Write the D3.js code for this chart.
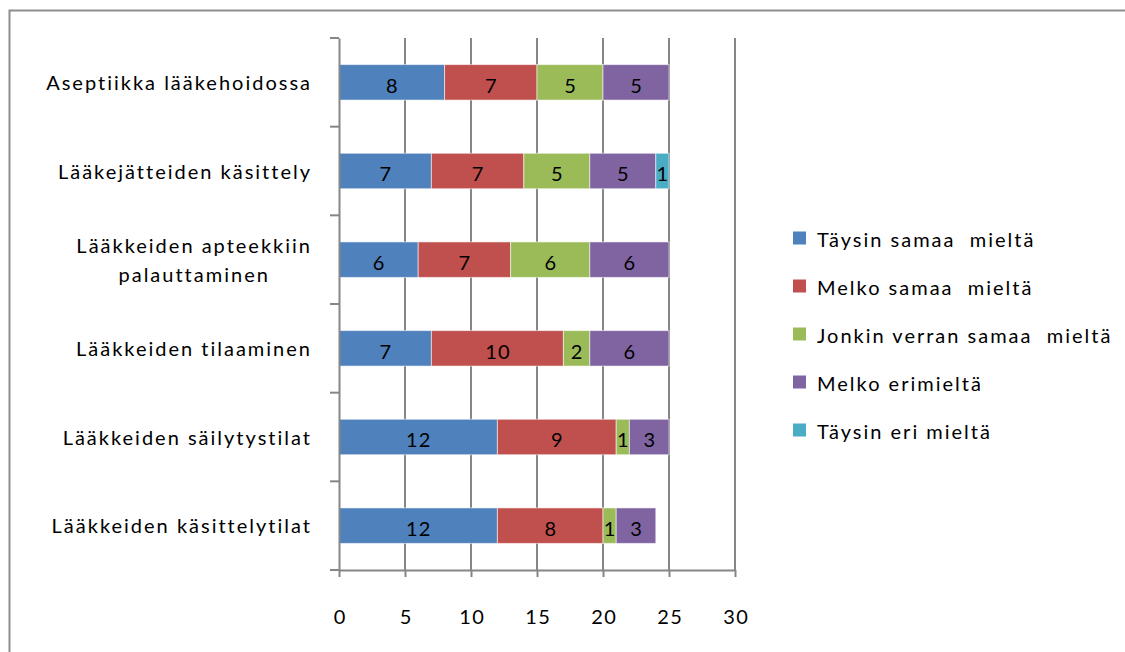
<!DOCTYPE html>
<html>
<head>
<meta charset="utf-8">
<script src="https://cdn.jsdelivr.net/npm/d3@7"></script>
<style>
  html, body { margin: 0; padding: 0; background: #fff; }
  svg { display: block; }
  text { font-family: Lato, "Open Sans", sans-serif; fill: #000; }
</style>
</head>
<body>
<svg id="chart" width="1125" height="652"></svg>
<script>
// Survey topics, top to bottom
const categories = [
  "Aseptiikka lääkehoidossa",
  "Lääkejätteiden käsittely",
  "Lääkkeiden apteekkiin palauttaminen",
  "Lääkkeiden tilaaminen",
  "Lääkkeiden säilytystilat",
  "Lääkkeiden käsittelytilat"
];
// Wrapped lines for the category labels
const categoryLines = [
  ["Aseptiikka lääkehoidossa"],
  ["Lääkejätteiden käsittely"],
  ["Lääkkeiden apteekkiin", "palauttaminen"],
  ["Lääkkeiden tilaaminen"],
  ["Lääkkeiden säilytystilat"],
  ["Lääkkeiden käsittelytilat"]
];
const seriesNames = [
  "Täysin samaa  mieltä",
  "Melko samaa  mieltä",
  "Jonkin verran samaa  mieltä",
  "Melko erimieltä",
  "Täysin eri mieltä"
];
const taysinSamaa   = [8, 7, 6, 7, 12, 12];
const melkoSamaa    = [7, 7, 7, 10, 9, 8];
const jonkinVerran  = [5, 5, 6, 2, 1, 1];
const melkoEri      = [5, 5, 6, 6, 3, 3];
const taysinEri     = [0, 1, 0, 0, 0, 0];
const xTicks = [0, 5, 10, 15, 20, 25, 30];
const colors = ["#4F81BD", "#C0504D", "#9BBB59", "#8064A2", "#4BACC6"];

const FONT = "Lato, 'Open Sans', sans-serif";
const FONT_SIZE = 20;
const SPACING = 2;

const seriesValues = [taysinSamaa, melkoSamaa, jonkinVerran, melkoEri, taysinEri];
const rows = categories.map((c, i) => {
  const r = { category: c };
  seriesNames.forEach((s, k) => r[s] = seriesValues[k][i]);
  return r;
});
const stacked = d3.stack().keys(seriesNames)(rows);

const svg = d3.select("#chart");

// outer chart frame
svg.append("rect")
  .attr("x", 9.5).attr("y", 10.5)
  .attr("width", 1200).attr("height", 700)
  .attr("fill", "#fff").attr("stroke", "#8e8e8e").attr("stroke-width", 2);

const plot = { left: 339, right: 735, top: 38, bottom: 570 };

const x = d3.scaleLinear().domain([0, 30]).range([plot.left, plot.right]);
const y = d3.scaleBand().domain(categories).range([plot.top, plot.bottom]).paddingInner(0.6).paddingOuter(0.3);
const yTicks = d3.scaleBand().domain(categories).range([plot.top, plot.bottom]);

const gridColor = "#868686";

// vertical gridlines
svg.append("g")
  .selectAll("line")
  .data(xTicks.filter(t => t > 0))
  .join("line")
  .attr("x1", d => x(d)).attr("x2", d => x(d))
  .attr("y1", plot.top).attr("y2", plot.bottom)
  .attr("stroke", gridColor).attr("stroke-width", 2);

// bars
const layer = svg.append("g")
  .selectAll("g")
  .data(stacked)
  .join("g")
  .attr("fill", (d, i) => colors[i]);

layer.selectAll("rect")
  .data(d => d.filter(p => p[1] - p[0] > 0))
  .join("rect")
  .attr("x", d => x(d[0]))
  .attr("y", d => y(d.data.category))
  .attr("width", d => x(d[1]) - x(d[0]))
  .attr("height", y.bandwidth())
  .attr("stroke", "rgba(255,255,255,0.55)")
  .attr("stroke-width", 1);

// value labels
layer.selectAll("text")
  .data(d => d.filter(p => p[1] - p[0] > 0))
  .join("text")
  .attr("x", d => x((d[0] + d[1]) / 2) + 0.5)
  .attr("y", d => y(d.data.category) + y.bandwidth() / 2 + 3)
  .attr("dy", "0.36em")
  .attr("text-anchor", "middle")
  .attr("font-size", FONT_SIZE)
  .attr("letter-spacing", 1)
  .text(d => d[1] - d[0]);

// y axis
const yAxis = d3.axisLeft(yTicks).tickSizeInner(0).tickSizeOuter(0).tickFormat("");
const yg = svg.append("g").attr("transform", `translate(${plot.left},0)`).call(yAxis);
yg.select(".domain").attr("stroke", gridColor).attr("stroke-width", 2);
// category boundary tick marks
svg.append("g")
  .selectAll("line")
  .data(d3.range(categories.length + 1))
  .join("line")
  .attr("x1", plot.left - 9).attr("x2", plot.left)
  .attr("y1", i => plot.top + i * yTicks.step())
  .attr("y2", i => plot.top + i * yTicks.step())
  .attr("stroke", gridColor).attr("stroke-width", 2);

// x axis
const xAxis = d3.axisBottom(x).tickValues(xTicks).tickSize(7).tickPadding(33).tickSizeOuter(0);
const xg = svg.append("g").attr("transform", `translate(0,${plot.bottom})`).call(xAxis);
xg.select(".domain").attr("stroke", gridColor).attr("stroke-width", 2);
xg.selectAll(".tick line").attr("stroke", gridColor).attr("stroke-width", 2);
xg.selectAll(".tick text")
  .attr("font-size", FONT_SIZE).attr("font-family", FONT).attr("fill", "#000")
  .attr("letter-spacing", 1.5).attr("dx", 0.75);

// category labels
const labelRight = 312;
const lg = svg.append("g");
categories.forEach((c, i) => {
  const lines = categoryLines[i];
  const cy = y(c) + y.bandwidth() / 2 + 0.5;
  const lineH = 29;
  const t = lg.append("text").attr("font-size", FONT_SIZE).attr("letter-spacing", SPACING);
  lines.forEach((ln, j) => {
    t.append("tspan").text(ln)
      .attr("y", cy + (j - (lines.length - 1) / 2) * lineH)
      .attr("dy", "0.36em");
  });
  // right-align the block, centre lines within it
  let w = 0;
  t.selectAll("tspan").each(function () { w = Math.max(w, this.getComputedTextLength()); });
  const cx = labelRight - w / 2;
  t.attr("text-anchor", "middle").selectAll("tspan").attr("x", cx);
});

// legend
const legend = svg.append("g").attr("transform", "translate(793,240)");
seriesNames.forEach((s, i) => {
  const g = legend.append("g").attr("transform", `translate(0,${i * 48})`);
  g.append("rect").attr("x", 0).attr("y", -8.5).attr("width", 13).attr("height", 13).attr("fill", colors[i]);
  g.append("text").attr("x", 24).attr("y", 0).attr("dy", "0.36em").attr("font-size", FONT_SIZE)
    .attr("letter-spacing", SPACING)
    .attr("xml:space", "preserve").style("white-space", "pre").text(s);
});
</script>
</body>
</html>
